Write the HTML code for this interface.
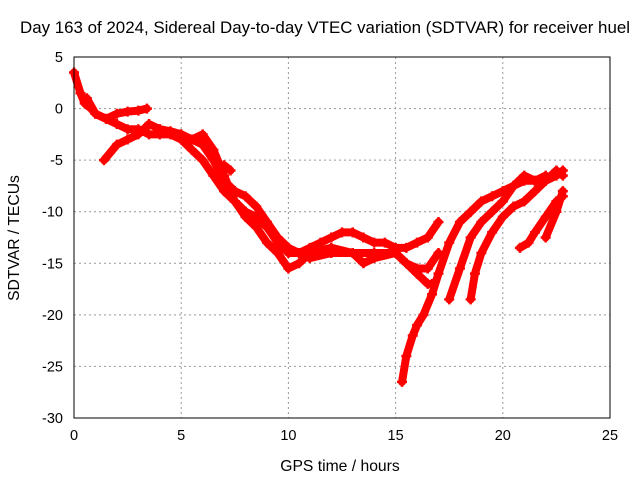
<!DOCTYPE html>
<html><head><meta charset="utf-8"><style>
body{margin:0;background:#fff}
svg text{font-family:"Liberation Sans",sans-serif;font-size:14.5px;fill:#000}
</style></head><body>
<svg id="c" width="640" height="480">
<rect x="0" y="0" width="640" height="480" fill="#fff"/>
<g id="grid"></g>
<g id="ticks"></g>
<g id="series"></g>
<rect x="74" y="57" width="536" height="361" fill="none" stroke="#000" stroke-width="1"/>
<text x="325" y="33" text-anchor="middle" style="font-size:16.8px" textLength="610" lengthAdjust="spacingAndGlyphs">Day 163 of 2024, Sidereal Day-to-day VTEC variation (SDTVAR) for receiver huel</text>
<text x="340" y="471" text-anchor="middle" style="font-size:15.7px">GPS time / hours</text>
<text x="19" y="238" text-anchor="middle" style="font-size:15.7px" transform="rotate(-90 19 238)">SDTVAR / TECUs</text>
</svg>
<script>
const xTicks=[0,5,10,15,20,25];
const yTicks=[5,0,-5,-10,-15,-20,-25,-30];
const trackA=[[0,3.5],[0.3,1.5],[0.5,0.5],[0.8,0],[1,-0.5],[1.5,-1],[2,-1.5],[2.5,-2],[3,-2],[3.5,-2.5],[4,-2.5],[4.5,-2.5],[5,-3],[5.5,-4],[6,-5],[6.5,-6.5],[7,-8],[7.5,-9],[8,-10],[8.5,-10.5],[9,-11.5],[9.5,-13],[10,-14],[10.5,-14],[11,-13.5],[11.5,-13],[12,-12.5],[12.5,-12],[13,-12],[13.5,-12.5],[14,-13],[14.5,-13],[15,-13.5],[15.5,-13.5],[16,-13],[16.5,-12.5],[17,-11]];
const trackB=[[1.4,-5],[2,-3.5],[2.5,-3],[3,-2.5],[3.5,-1.5],[4,-2],[4.5,-2.2],[5,-2.5],[5.5,-3],[6,-3.5],[6.5,-5],[7,-7],[7.5,-8],[8,-8.5],[8.5,-9.5],[9,-11],[9.5,-12.5],[10,-13.5],[10.5,-14],[11,-14.5],[12,-14],[13,-14],[14,-14],[15,-14],[15.5,-15],[16,-16],[16.5,-17],[16.7,-17]];
const trackC=[[0.6,1],[1,-0.5],[1.5,-1],[2,-0.5],[2.5,-0.3],[3,-0.2],[3.4,0]];
const trackD=[[4,-2],[5,-2.5],[5.5,-3],[6,-2.5],[6.5,-4],[7,-6.5],[7.5,-9],[8,-10.5],[8.5,-11.5],[9,-13],[9.5,-14],[10,-15.5],[10.5,-15],[11,-14],[12,-13.5],[13,-14],[13.5,-15],[14,-14.5],[15,-14],[15.5,-15],[16,-15.5],[16.5,-15.5],[17,-14]];
const trackE=[[7,-5.5],[7.3,-6]];
const trackF=[[15.3,-26.5],[15.5,-24],[15.8,-22],[16,-21],[16.3,-20],[16.7,-18],[17,-16],[17.5,-13],[18,-11],[18.5,-10],[19,-9],[19.5,-8.5],[20,-8],[20.5,-7.5],[21,-7],[21.5,-7],[22,-7],[22.5,-6.5],[22.8,-6]];
const trackG=[[17.5,-18.5],[18,-15.5],[18.5,-12.5],[19,-11],[19.5,-10],[20,-9],[20.5,-7.5],[21,-6.5],[21.5,-7],[22,-6.5]];
const trackH=[[18.5,-18.5],[18.7,-16],[19,-14],[19.5,-12],[20,-10.5],[20.5,-9.5],[21,-9],[21.5,-8],[22,-7],[22.5,-6],[22.8,-6.5]];
const trackI=[[20.8,-13.5],[21.2,-13],[21.5,-12],[22,-10.5],[22.5,-9],[22.8,-8.5]];
const trackJ=[[22,-12.5],[22.5,-10],[22.8,-8]];
const tracks=[trackA,trackB,trackC,trackD,trackE,trackF,trackG,trackH,trackI,trackJ];
const X0=74,X1=610,Y0=418,Y1=57;
const sx=v=>X0+(v-0)/25*(X1-X0);
const sy=v=>Y0-(v+30)/35*(Y0-Y1);
const NS="http://www.w3.org/2000/svg";
const grid=document.getElementById('grid'),tk=document.getElementById('ticks'),ser=document.getElementById('series');
function mk(tag,attrs,parent){const e=document.createElementNS(NS,tag);for(const k in attrs)e.setAttribute(k,attrs[k]);parent.appendChild(e);return e;}
xTicks.forEach(t=>{
  const x=sx(t);
  if(t>0&&t<25){const l=mk('line',{x1:x,x2:x,y1:Y1,y2:Y0,stroke:'#999','stroke-dasharray':'2,3'},grid);
  
  }
  const tx=mk('text',{x:x,y:Y0+22,'text-anchor':'middle'},tk);tx.textContent=t;
  
  
});
yTicks.forEach(t=>{
  const y=sy(t);
  if(t>-30&&t<5){const l=mk('line',{x1:X0,x2:X1,y1:y,y2:y,stroke:'#999','stroke-dasharray':'2,3'},grid);
  
  }
  const tx=mk('text',{x:X0-11,y:y+5,'text-anchor':'end'},tk);tx.textContent=t;
  
  
});
tracks.forEach((tr,i)=>{
  const p=mk('polyline',{points:tr.map(d=>sx(d[0])+','+sy(d[1])).join(' '),fill:'none',stroke:'#f00','stroke-width':8,'stroke-linejoin':'round','stroke-linecap':'round'},ser);
  
  
  tr.forEach(d=>{
    const x=sx(d[0]),y=sy(d[1]);
    const m=mk('path',{d:`M${x-5},${y}H${x+5}M${x},${y-5}V${y+5}`,stroke:'#f00','stroke-width':2.5},ser);
    
    
  });
});
</script>
</body></html>
